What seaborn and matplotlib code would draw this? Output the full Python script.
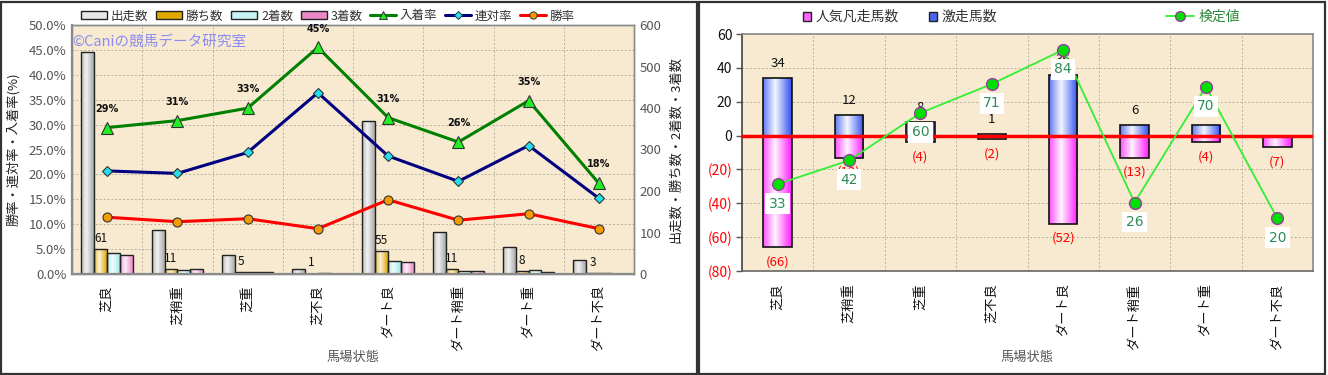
import numpy as np
import pandas as pd
import matplotlib
matplotlib.use('Agg')
import matplotlib.pyplot as plt
import seaborn as sns
from matplotlib.patches import Patch, Rectangle
from matplotlib.lines import Line2D
from matplotlib.ticker import MultipleLocator, FixedLocator, FuncFormatter
from matplotlib.colors import to_rgb

sns.set_theme(style='white')
plt.rcParams['font.family'] = ['Noto Sans CJK JP', 'DejaVu Sans']

# data
conds = ['芝良', '芝稍重', '芝重', '芝不良', 'ダート良', 'ダート稍重', 'ダート重', 'ダート不良']
runs = [535, 105, 45, 11, 369, 102, 66, 33]
wins = [61, 11, 5, 1, 55, 11, 8, 3]
second = [50, 10, 6, 3, 32, 8, 9, 2]
third = [46, 11, 4, 1, 28, 8, 6, 1]
win_rate = [11.4, 10.5, 11.1, 9.1, 14.9, 10.8, 12.1, 9.1]
rentai_rate = [20.7, 20.2, 24.4, 36.4, 23.7, 18.6, 25.8, 15.2]
place_rate = [29.4, 30.8, 33.3, 45.5, 31.4, 26.5, 34.8, 18.2]
place_labels = ['29%', '31%', '33%', '45%', '31%', '26%', '35%', '18%']

gekisou = [34, 12, 8, 1, 36, 6, 6, 0]
bonsou = [66, 13, 4, 2, 52, 13, 4, 7]
kentei = [33, 42, 60, 71, 84, 26, 70, 20]

W, H = 1328, 375
fig = plt.figure(figsize=(W / 100, H / 100), dpi=100)
fig.patch.set_facecolor('white')


def px_axes(x0, y0, x1, y1):
    return fig.add_axes([x0 / W, 1 - y1 / H, (x1 - x0) / W, (y1 - y0) / H])


def shade(ax, mix=0.85):
    # cylinder look: gradient image clipped to each bar
    t = np.linspace(0, 1, 64)
    k = np.where(t < 0.42, (0.42 - t) / 0.42 * 0.75, (t - 0.42) / 0.58)
    for p in list(ax.patches):
        base = np.array(to_rgb(p.get_facecolor()))
        light = base + (1 - base) * mix
        rgb = light[None, :] * (1 - k[:, None]) + base[None, :] * k[:, None]
        x0, y0 = p.get_x(), p.get_y()
        w, h = p.get_width(), p.get_height()
        im = ax.imshow(rgb[None, :, :], extent=[x0, x0 + w, min(y0, y0 + h), max(y0, y0 + h)],
                       aspect='auto', interpolation='bilinear', zorder=p.get_zorder() - 0.05)
        im.set_clip_path(p)
        p.set_facecolor('none')


bg = '#f7ead0'
grid_kw = dict(color='#b8b0a0', linestyle=(0, (2, 2)), linewidth=0.7)

# ---------------- left chart ----------------
ax = px_axes(72, 25, 634, 274)
ax.set_facecolor(bg)
df = pd.DataFrame({'cond': conds * 4,
                   'kind': ['出走数'] * 8 + ['勝ち数'] * 8 + ['2着数'] * 8 + ['3着数'] * 8,
                   'count': runs + wins + second + third})
bar_cols = ['#a8a8a8', '#e0a800', '#9fe8e8', '#ec88c8']
sns.barplot(data=df, x='cond', y='count', hue='kind', order=conds, palette=bar_cols,
            width=0.73, gap=0, saturation=1, edgecolor='#222222', linewidth=1,
            legend=False, ax=ax)
ax.bar_label(ax.containers[1], labels=[str(v) for v in wins], padding=3, fontsize=8.5,
             color='#111111')
shade(ax)
ax.set_xlim(-0.5, 7.5)
ax.set_ylim(0, 600)

tw = ax.twinx()
ax.yaxis.tick_right()
ax.yaxis.set_label_position('right')
ax.set_yticks(range(0, 601, 100))
ax.yaxis.set_minor_locator(MultipleLocator(60))
ax.xaxis.set_minor_locator(FixedLocator(np.arange(-0.5, 8, 1)))
ax.grid(which='minor', **grid_kw)
ax.grid(which='major', visible=False)
ax.set_axisbelow(True)
ax.tick_params(axis='y', which='both', length=0, labelsize=9.5, labelcolor='#555555', pad=4,
               left=False, labelleft=False, right=True, labelright=True)
ax.tick_params(axis='x', which='both', length=0, labelsize=9.5, pad=8)
ax.set_xticks(range(8))
ax.set_xticklabels(conds, rotation=90, va='top', ha='center', color='#111111')
ax.set_xlabel('')
ax.set_ylabel('出走数・勝ち数・2着数・3着数', fontsize=9.5, color='#222222', labelpad=6)

line_specs = [(place_rate, '#008000', '^', '#22ee22', 8),
              (rentai_rate, '#000080', 'D', '#22e0f0', 5.5),
              (win_rate, '#ff0000', 'o', '#f59a00', 6.5)]
for vals, lc, mk, fc, ms in line_specs:
    sns.pointplot(x=conds, y=vals, order=conds, color=lc, errorbar=None, ax=tw)
    ln = tw.lines[-1]
    ln.set_linewidth(2.2)
    ln.set_marker(mk)
    ln.set_markersize(ms)
    ln.set_markerfacecolor(fc)
    ln.set_markeredgecolor('#333333')
    ln.set_markeredgewidth(0.8)
for i, (v, lab) in enumerate(zip(place_rate, place_labels)):
    tw.annotate(lab, (i, v), xytext=(0, 10), textcoords='offset points', ha='center',
                va='bottom', fontsize=7, fontweight='bold', family='DejaVu Sans', color='#111111')
tw.set_ylim(0, 50)
tw.set_xlim(-0.5, 7.5)
tw.yaxis.tick_left()
tw.yaxis.set_label_position('left')
tw.set_yticks(np.arange(0, 50.1, 5))
tw.yaxis.set_major_formatter(FuncFormatter(lambda v, p: f'{v:.1f}%'))
tw.tick_params(axis='y', length=0, labelsize=9.5, labelcolor='#555555', pad=4,
               right=False, labelright=False, left=True, labelleft=True)
tw.set_ylabel('勝率・連対率・入着率(%)', fontsize=9.5, color='#222222', labelpad=6)
tw.set_xlabel('')
for a in (ax, tw):
    for s in a.spines.values():
        s.set_color('#8a8a8a')
        s.set_linewidth(1.0)
ax.spines['left'].set_linewidth(1.6)
ax.spines['bottom'].set_linewidth(1.6)

ax.text(0.0, 0.93, '©Caniの競馬データ研究室', transform=ax.transAxes, fontsize=10.5,
        color='#8c8cf0', ha='left', va='center', zorder=5)
fig.text(353 / W, 1 - 357 / H, '馬場状態', ha='center', va='center', fontsize=9.5, color='#555555')

handles = [Patch(facecolor=c, edgecolor='#222222', linewidth=1) for c in ['#e8e8e8', '#e0a800', '#c8f4f4', '#ec88c8']]
handles += [Line2D([], [], color=lc, lw=2.2, marker=mk, markersize=ms * 0.8, markerfacecolor=fc,
                   markeredgecolor='#333333', markeredgewidth=0.7) for _, lc, mk, fc, ms in line_specs]
fig.legend(handles, ['出走数', '勝ち数', '2着数', '3着数', '入着率', '連対率', '勝率'], ncol=7,
           loc='center', bbox_to_anchor=(328 / W, 1 - 16 / H), frameon=False, fontsize=9,
           handlelength=2.1, handleheight=0.55, handletextpad=0.3, columnspacing=0.6,
           labelcolor='#333333')

# ---------------- right chart ----------------
ax2 = px_axes(742, 34, 1313, 271)
ax2.set_facecolor(bg)
sns.barplot(x=conds, y=gekisou, order=conds, color='#3050f0', saturation=1, width=0.4,
            edgecolor='#111111', linewidth=1.2, ax=ax2)
sns.barplot(x=conds, y=[-v for v in bonsou], order=conds, color='#ff1cff', saturation=1, width=0.4,
            edgecolor='#111111', linewidth=1.2, ax=ax2)
ax2.bar_label(ax2.containers[0], labels=[str(v) if v else '' for v in gekisou], padding=6,
              fontsize=9.5, color='#111111')
ax2.bar_label(ax2.containers[1], labels=[f'({v})' for v in bonsou], padding=6,
              fontsize=9.5, color='#ff0000')
shade(ax2, mix=0.95)
ax2.axhline(0, color='#ff0000', lw=2.5, zorder=3)
ax2.set_xlim(-0.5, 7.5)
ax2.set_ylim(-80, 60)
ticks = list(range(-80, 61, 20))
ax2.set_yticks(ticks)
ax2.set_yticklabels([f'({-v})' if v < 0 else str(v) for v in ticks])
for lab, v in zip(ax2.get_yticklabels(), ticks):
    lab.set_color('#ff0000' if v < 0 else '#111111')
ax2.xaxis.set_minor_locator(FixedLocator(np.arange(-0.5, 8, 1)))
ax2.grid(which='minor', axis='x', **grid_kw)
ax2.grid(which='major', axis='y', **grid_kw)
ax2.grid(which='major', axis='x', visible=False)
ax2.set_axisbelow(True)
ax2.set_xticks(range(8))
ax2.set_xticklabels(conds, rotation=90, va='top', ha='center', color='#111111')
for s in ax2.spines.values():
    s.set_color('#8a8a8a')
    s.set_linewidth(1.2)
ax2.spines['left'].set_color('#444444')
ax2.spines['bottom'].set_color('#666666')

tw2 = ax2.twinx()
ax2.tick_params(axis='y', length=4, width=1, color='#555555', labelsize=10, pad=3,
                left=True, labelleft=True, right=False, labelright=False)
ax2.tick_params(axis='x', which='both', length=0, labelsize=9.5, pad=9)
sns.pointplot(x=conds, y=kentei, order=conds, color='#33ee33', errorbar=None, ax=tw2)
ln = tw2.lines[-1]
ln.set_linewidth(1.3)
ln.set_marker('o')
ln.set_markersize(8.5)
ln.set_markerfacecolor('#00e000')
ln.set_markeredgecolor('#9a3aa0')
ln.set_markeredgewidth(1.0)
for i, v in enumerate(kentei):
    tw2.annotate(str(v), (i, v), xytext=(0, -14), textcoords='offset points', ha='center',
                 va='center', fontsize=10, color='#2e8b57', family='DejaVu Sans',
                 bbox=dict(boxstyle='square,pad=0.25', facecolor='white', edgecolor='none'))
tw2.set_ylim(0, 90)
tw2.set_xlim(-0.5, 7.5)
tw2.set_yticks([])
tw2.set_ylabel('')
for s in tw2.spines.values():
    s.set_visible(False)

fig.text(1027 / W, 1 - 357 / H, '馬場状態', ha='center', va='center', fontsize=9.5, color='#555555')

h2 = [Patch(facecolor='#ff66ff', edgecolor='#222222', linewidth=1),
      Patch(facecolor='#4a66f0', edgecolor='#222222', linewidth=1)]
fig.legend(h2, ['人気凡走馬数', '激走馬数'], ncol=2, loc='center',
           bbox_to_anchor=(900 / W, 1 - 17 / H), frameon=False, fontsize=10,
           handlelength=0.6, handleheight=0.6, handletextpad=0.3, columnspacing=2.2,
           labelcolor='#333333')
h3 = [Line2D([], [], color='#33ee33', lw=1.3, marker='o', markersize=7,
             markerfacecolor='#00e000', markeredgecolor='#9a3aa0')]
fig.legend(h3, ['検定値'], loc='center', bbox_to_anchor=(1203 / W, 1 - 17 / H), frameon=False,
           fontsize=10, handlelength=2.0, handletextpad=0.3, labelcolor='#2e8b3a')

# panel frames
fig.add_artist(Rectangle((1 / W, 1 / H), 696 / W, 372 / H, transform=fig.transFigure,
                         fill=False, edgecolor='#333333', lw=1.6))
fig.add_artist(Rectangle((699 / W, 1 / H), 626 / W, 372 / H, transform=fig.transFigure,
                         fill=False, edgecolor='#333333', lw=1.6))

fig.savefig('out.png', dpi=100)
